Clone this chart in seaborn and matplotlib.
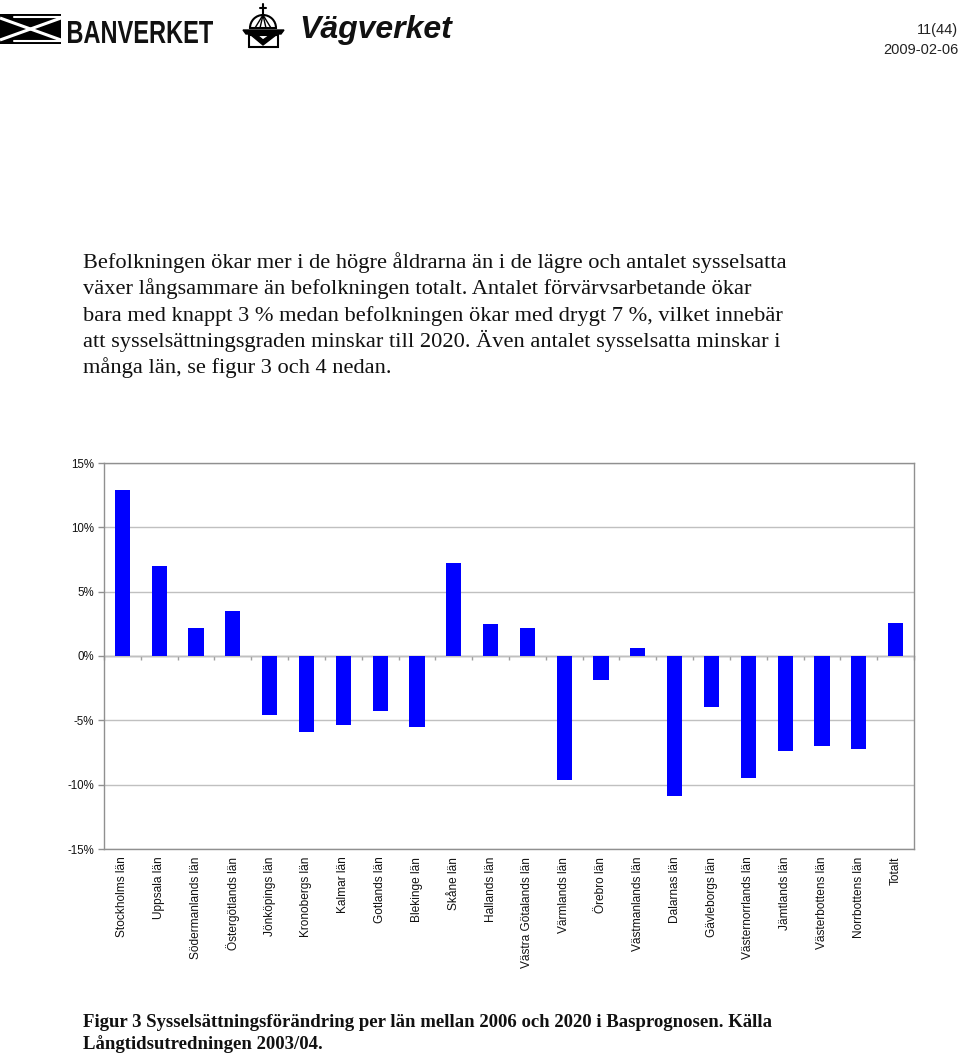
import numpy as np
import matplotlib
matplotlib.use("Agg")
import matplotlib.pyplot as plt
import seaborn as sns
from matplotlib.patches import Rectangle, Polygon, Wedge, PathPatch
from matplotlib.textpath import TextPath
from matplotlib.font_manager import FontProperties
from matplotlib.transforms import Affine2D

# ---------------- data ----------------
categories = ["Stockholms län", "Uppsala län", "Södermanlands län", "Östergötlands län",
              "Jönköpings län", "Kronobergs län", "Kalmar län", "Gotlands län",
              "Blekinge län", "Skåne län", "Hallands län", "Västra Götalands län",
              "Värmlands län", "Örebro län", "Västmanlands län", "Dalarnas län",
              "Gävleborgs län", "Västernorrlands län", "Jämtlands län",
              "Västerbottens län", "Norrbottens län", "Totalt"]
values = [12.9, 7.0, 2.2, 3.5, -4.6, -5.9, -5.4, -4.3, -5.5, 7.2, 2.5, 2.2,
          -9.6, -1.9, 0.6, -10.9, -4.0, -9.5, -7.4, -7.0, -7.2, 2.6]
ytick_values = [-15, -10, -5, 0, 5, 10, 15]
ytick_labels = ["-15%", "-10%", "-5%", "0%", "5%", "10%", "15%"]

body_lines = [
    "Befolkningen ökar mer i de högre åldrarna än i de lägre och antalet sysselsatta",
    "växer långsammare än befolkningen totalt. Antalet förvärvsarbetande ökar",
    "bara med knappt 3 % medan befolkningen ökar med drygt 7 %, vilket innebär",
    "att sysselsättningsgraden minskar till 2020. Även antalet sysselsatta minskar i",
    "många län, se figur 3 och 4 nedan.",
]
caption_lines = [
    "Figur 3 Sysselsättningsförändring per län mellan 2006 och 2020 i Basprognosen. Källa",
    "Långtidsutredningen 2003/04.",
]
page_no = "11(44)"
date_str = "2009-02-06"

# ---------------- style ----------------
sns.set_style("white")
plt.rcParams['font.family'] = ['Liberation Sans', 'DejaVu Sans']

W, H = 960, 1053
fig = plt.figure(figsize=(W / 100, H / 100), dpi=100)

# page decoration layer in pixel coordinates
deco = fig.add_axes([0, 0, 1, 1], zorder=0)
deco.set_xlim(0, W)
deco.set_ylim(H, 0)
deco.axis('off')


def fitted_text(ax, s, x0, x1, ytop, ybase, prop, color='#111111'):
    """Draw text s stretched so that it spans x0..x1 and cap height ytop..ybase (pixels)."""
    tp = TextPath((0, 0), s, size=1, prop=prop)
    ext = tp.get_extents()
    cap = TextPath((0, 0), "H", size=1, prop=prop).get_extents().height
    sx = (x1 - x0) / ext.width
    sy = (ybase - ytop) / cap
    tr = Affine2D().translate(-ext.x0, 0).scale(sx, -sy).translate(x0, ybase) + ax.transData
    ax.add_patch(PathPatch(tp, transform=tr, facecolor=color, edgecolor='none'))


# Banverket mark
deco.add_patch(Rectangle((0, 14), 61, 30, facecolor='black', edgecolor='none'))
deco.plot([0, 61], [18, 40], color='white', lw=2.2, solid_capstyle='butt')
deco.plot([0, 61], [40, 18], color='white', lw=2.2, solid_capstyle='butt')
deco.plot([14, 61], [17, 17], color='white', lw=1.5)
deco.plot([14, 61], [41, 41], color='white', lw=1.5)
fitted_text(deco, "BANVERKET", 68, 213, 21, 43,
            FontProperties(family='Liberation Sans', weight='bold'))

# Vägverket emblem (simplified)
cx = 263
deco.add_patch(Wedge((cx, 28), 13, 180, 360, facecolor='white', edgecolor='black', lw=1.5))
for dx in (-8, -3, 3, 8):
    deco.plot([cx, cx + dx], [15, 28], color='black', lw=1)
deco.plot([cx, cx], [4, 14], color='black', lw=1.5)
deco.plot([cx - 3, cx + 3], [8, 8], color='black', lw=1.5)
deco.add_patch(Polygon([[243, 30], [284, 30], [281, 34], [246, 34]], closed=True,
                       facecolor='black', edgecolor='black'))
deco.add_patch(Polygon([[249, 35], [278, 35], [278, 47], [249, 47]], closed=True,
                       facecolor='white', edgecolor='black', lw=1.5))
deco.add_patch(Polygon([[251, 35], [263, 45], [276, 35], [270, 35], [263, 40], [257, 35]],
                       closed=True, facecolor='black', edgecolor='black'))
deco.text(299, 30, "Vägverket", fontfamily=['Liberation Sans'], fontweight='bold',
          fontstyle='italic', fontsize=23, va='center', ha='left', color='#111111')

# page number / date
deco.text(958, 30, page_no, ha='right', va='center', fontsize=10.5, color='#222222')
deco.text(958, 50, date_str, ha='right', va='center', fontsize=10.5, color='#222222')

# body text
body_baselines = [268, 294, 321, 347, 373]
for txt, yb in zip(body_lines, body_baselines):
    deco.text(83, yb, txt, fontfamily=['Liberation Serif', 'DejaVu Serif'], fontsize=16.1,
              va='baseline', ha='left', color='#111111')

# caption
cap_baselines = [1027, 1049]
for txt, yb in zip(caption_lines, cap_baselines):
    deco.text(83, yb, txt, fontfamily=['Liberation Serif', 'DejaVu Serif'], fontsize=13.5,
              fontweight='bold', va='baseline', ha='left', color='#111111')

# ---------------- chart ----------------
ax = fig.add_axes([104 / W, 1 - 849 / H, 810 / W, 386 / H], zorder=2)
sns.barplot(x=categories, y=values, order=categories, color='#0000FF', saturation=1,
            width=0.41, edgecolor='none', ax=ax)
ax.set_xlim(-0.5, len(categories) - 0.5)
ax.set_ylim(-15, 15)
ax.set_yticks(ytick_values)
ax.set_yticklabels(ytick_labels)
ax.yaxis.grid(True, color='#c0c0c0', lw=1)
ax.xaxis.grid(False)
ax.set_axisbelow(True)
for s in ax.spines.values():
    s.set_visible(True)
    s.set_color('#909090')
    s.set_linewidth(1)
ax.tick_params(axis='y', left=True, length=4, width=1, color='#909090', labelsize=8.3,
               pad=3, labelcolor='#111111')
ax.set_xticks(np.arange(len(categories)))
ax.set_xticklabels(categories, rotation=90, va='top', ha='center')
ax.tick_params(axis='x', bottom=False, labelsize=8.6, pad=2, labelcolor='#111111')
ax.set_xlabel('')
ax.set_ylabel('')

# category boundary tick marks along the zero line
sec = ax.secondary_xaxis(0.5)
sec.set_alignment('bottom')
sec.set_xticks(np.arange(len(categories) + 1) - 0.5)
sec.tick_params(axis='x', direction='out', length=3, width=1, color='#a0a0a0',
                labelbottom=False, labeltop=False)
sec.spines['bottom'].set_color('#909090')
sec.spines['bottom'].set_linewidth(1)

fig.savefig("out.png", dpi=100, facecolor='white')
